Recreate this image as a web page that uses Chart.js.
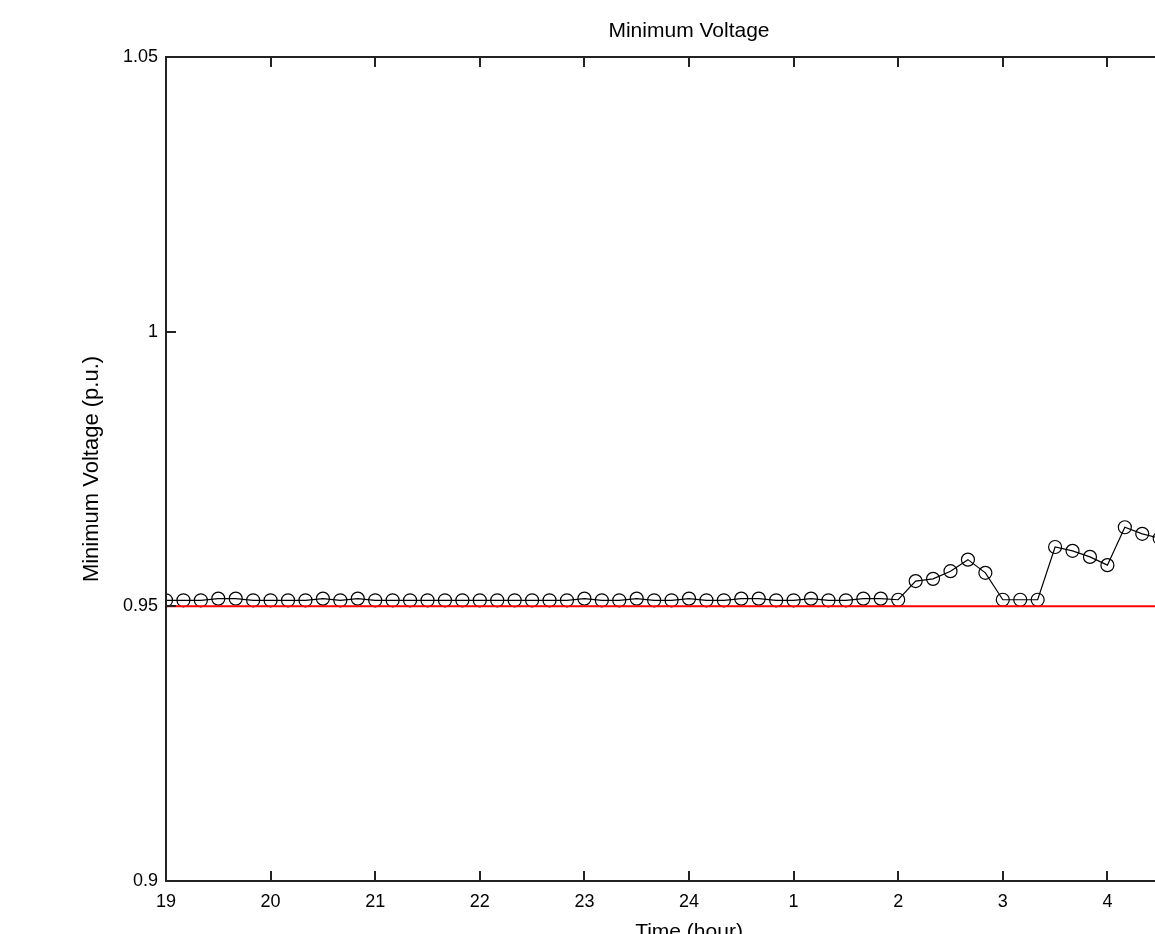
<!DOCTYPE html>
<html>
<head>
<meta charset="utf-8">
<title>Minimum Voltage</title>
<script src="https://cdn.jsdelivr.net/npm/chart.js@4.4.0/dist/chart.umd.min.js"></script>
<style>
  html, body { margin: 0; padding: 0; background: #fff; }
  #wrap { width: 1155px; height: 934px; overflow: hidden; position: relative; }
  canvas { display: block; }
</style>
</head>
<body>
<div id="wrap">
  <canvas id="myChart" width="1378" height="950" style="width:1378px;height:950px"></canvas>
</div>
<script>
// time of each sample (10 min steps, evening into next morning)
const times = [
  '19:00','19:10','19:20','19:30','19:40','19:50',
  '20:00','20:10','20:20','20:30','20:40','20:50',
  '21:00','21:10','21:20','21:30','21:40','21:50',
  '22:00','22:10','22:20','22:30','22:40','22:50',
  '23:00','23:10','23:20','23:30','23:40','23:50',
  '24:00','0:10','0:20','0:30','0:40','0:50',
  '1:00','1:10','1:20','1:30','1:40','1:50',
  '2:00','2:10','2:20','2:30','2:40','2:50',
  '3:00','3:10','3:20','3:30','3:40','3:50',
  '4:00','4:10','4:20','4:30'
];

// minimum voltage in p.u.
const voltage = [
  0.9511, 0.9511, 0.9511, 0.9514, 0.9514, 0.9511,
  0.9511, 0.9511, 0.9511, 0.9514, 0.9511, 0.9514,
  0.9511, 0.9511, 0.9511, 0.9511, 0.9511, 0.9511,
  0.9511, 0.9511, 0.9511, 0.9511, 0.9511, 0.9511,
  0.9514, 0.9511, 0.9511, 0.9514, 0.9511, 0.9511,
  0.9514, 0.9511, 0.9511, 0.9514, 0.9514, 0.9511,
  0.9511, 0.9514, 0.9511, 0.9511, 0.9514, 0.9514,
  0.9512, 0.9546, 0.9550, 0.9564, 0.9585, 0.9561,
  0.9512, 0.9512, 0.9512, 0.9608, 0.9601, 0.9590,
  0.9575, 0.9644, 0.9632, 0.9624
];

const hourLabels = ['19','20','21','22','23','24','1','2','3','4','5'];
const xRange = [19, 29];
const yRange = [0.9, 1.05];
const voltageLimit = 0.95;

function toHours(t) {
  const [h, m] = t.split(':').map(Number);
  let v = h + m / 60;
  if (v < 19) v += 24;
  return v;
}

const points = times.map((t, i) => ({ x: toHours(t), y: voltage[i] }));
const limitLine = xRange.map(x => ({ x: x, y: voltageLimit }));

const FONT = "'Liberation Sans', Arial, sans-serif";

// matlab style box with inward ticks
const boxTicks = {
  id: 'boxTicks',
  afterDraw(chart) {
    const { ctx, chartArea: a, scales: { x, y } } = chart;
    const len = 10;
    ctx.save();
    ctx.strokeStyle = '#222';
    ctx.lineWidth = 2;
    ctx.beginPath();
    ctx.rect(Math.round(a.left), Math.round(a.top),
             Math.round(a.right - a.left), Math.round(a.bottom - a.top));
    x.ticks.forEach(t => {
      const px = Math.round(x.getPixelForValue(t.value));
      ctx.moveTo(px, a.bottom); ctx.lineTo(px, a.bottom - len);
      ctx.moveTo(px, a.top); ctx.lineTo(px, a.top + len);
    });
    y.ticks.forEach(t => {
      const py = Math.round(y.getPixelForValue(t.value));
      ctx.moveTo(a.left, py); ctx.lineTo(a.left + len, py);
      ctx.moveTo(a.right, py); ctx.lineTo(a.right - len, py);
    });
    ctx.stroke();
    ctx.restore();
  }
};

const ctx = document.getElementById('myChart').getContext('2d');
new Chart(ctx, {
  type: 'line',
  data: {
    datasets: [
      {
        label: 'Limit',
        data: limitLine,
        borderColor: '#ff0000',
        borderWidth: 2,
        pointRadius: 0,
        order: 0
      },
      {
        label: 'Minimum Voltage',
        data: points,
        borderColor: '#000',
        borderWidth: 1.2,
        pointRadius: 6.5,
        pointBorderWidth: 1.2,
        pointBorderColor: '#000',
        pointBackgroundColor: 'rgba(0,0,0,0)',
        tension: 0,
        order: 1
      }
    ]
  },
  options: {
    responsive: false,
    animation: false,
    layout: { padding: 0 },
    plugins: {
      legend: { display: false },
      tooltip: { enabled: false },
      title: {
        display: true,
        text: 'Minimum Voltage',
        color: '#000',
        font: { family: FONT, size: 21, weight: 'normal' },
        padding: { top: 18.4, bottom: 13.4 }
      }
    },
    scales: {
      x: {
        type: 'linear',
        min: xRange[0],
        max: xRange[1],
        grid: { drawOnChartArea: false, drawTicks: false },
        border: { display: false },
        ticks: {
          stepSize: 1,
          padding: 10,
          color: '#000',
          font: { family: FONT, size: 18 },
          maxRotation: 0,
          callback: v => hourLabels[v - xRange[0]]
        },
        title: {
          display: true,
          text: 'Time (hour)',
          color: '#000',
          font: { family: FONT, size: 21 },
          padding: { top: 0, bottom: 5.4 }
        },
        afterFit: s => { s.height = 69; }
      },
      y: {
        type: 'linear',
        min: yRange[0],
        max: yRange[1],
        grid: { drawOnChartArea: false, drawTicks: false },
        border: { display: false },
        ticks: {
          stepSize: 0.05,
          padding: 8,
          color: '#000',
          font: { family: FONT, size: 18 },
          callback: v => String(Math.round(v * 100) / 100)
        },
        title: {
          display: true,
          text: 'Minimum Voltage (p.u.)',
          color: '#000',
          font: { family: FONT, size: 22 },
          padding: { top: 79, bottom: 0 }
        },
        afterFit: s => { s.width = 166; }
      },
      // empty right margin, same width as the left one so the title centres on the axes
      yRight: {
        type: 'linear',
        position: 'right',
        min: yRange[0],
        max: yRange[1],
        grid: { display: false, drawTicks: false },
        border: { display: false },
        ticks: { display: false },
        afterFit: s => { s.width = 166; }
      }
    }
  },
  plugins: [boxTicks]
});
</script>
</body>
</html>
